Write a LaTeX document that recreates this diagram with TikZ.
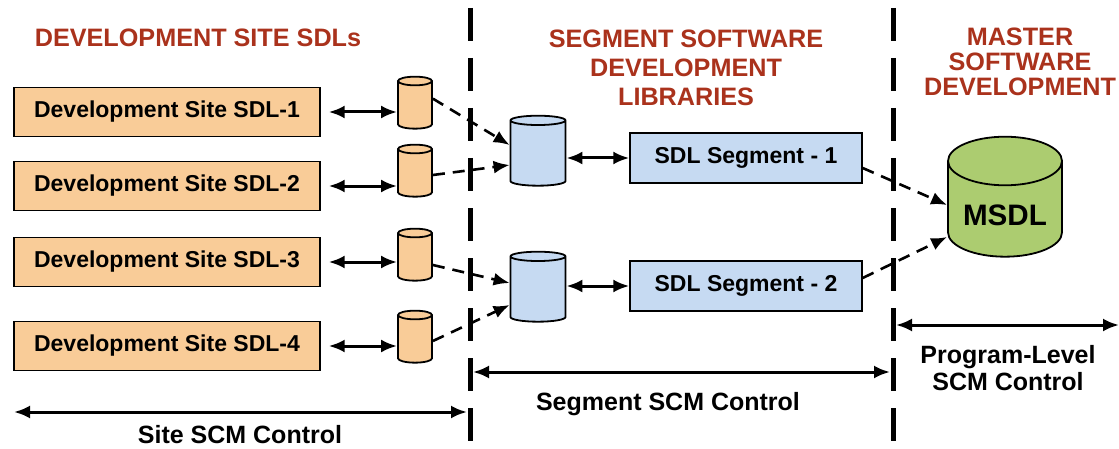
\documentclass[tikz,border=0pt]{standalone}
\usepackage{fontspec}
\setmainfont{Liberation Sans}
\usetikzlibrary{shapes.geometric,arrows.meta}

\definecolor{titlered}{RGB}{170,50,28}
\definecolor{siteorange}{RGB}{249,204,152}
\definecolor{segblue}{RGB}{198,218,242}
\definecolor{mastergreen}{RGB}{172,204,112}

\begin{document}
\begin{tikzpicture}[x=0.5pt,y=-0.5pt,
    >={Latex[length=8pt,width=6.5pt]},
    title/.style={text=titlered,font=\bfseries\fontsize{12.6}{14.5}\selectfont,align=center},
    site/.style={rectangle,draw,fill=siteorange,minimum width=153pt,minimum height=24.5pt,line width=0.7pt,font=\bfseries\fontsize{11.5}{13}\selectfont},
    seg/.style={rectangle,draw,fill=segblue,minimum width=116pt,minimum height=25pt,line width=0.7pt,font=\bfseries\fontsize{11.5}{13}\selectfont},
    db/.style={cylinder,shape border rotate=90,draw,line width=0.9pt,aspect=0.65,minimum width=17pt,minimum height=26pt,fill=siteorange},
    bdb/.style={cylinder,shape border rotate=90,draw,line width=0.9pt,aspect=0.7,minimum width=27.5pt,minimum height=35pt,fill=segblue},
    mdb/.style={cylinder,shape border rotate=90,draw,line width=0.9pt,aspect=0.5,minimum width=57pt,minimum height=60pt,fill=mastergreen,font=\bfseries\fontsize{14.8}{16}\selectfont},
    link/.style={<->,line width=1.5pt},
    feed/.style={->,line width=1.3pt,dash pattern=on 6pt off 4pt},
    fence/.style={line width=2.5pt,dash pattern=on 16.5pt off 8.5pt},
    span/.style={<->,line width=1.5pt},
    caption/.style={font=\bfseries\fontsize{12.5}{13.5}\selectfont,align=center},
]
\useasboundingbox (0,0) rectangle (1119,449);

% column titles
\node[title] (ttsite) at (198,38) {DEVELOPMENT SITE SDLs};
\node[title] (ttseg) at (686,68) {SEGMENT SOFTWARE\\DEVELOPMENT\\LIBRARIES};
\node[title,font=\bfseries\fontsize{12.6}{12.5}\selectfont] (ttmaster) at (1020,62) {MASTER\\SOFTWARE\\DEVELOPMENT};

% section borders
\draw[fence] (470,8) -- (470,445);
\draw[fence] (893,8) -- (893,445);

% development sites
\foreach \i/\y/\c in {1/112/107,2/186/175,3/262/259,4/346/341}{
  \node[site] (site\i) at (167,\y) {Development Site SDL-\i};
  \node[db] (sdb\i) at (415,\c) {};
  \draw[link] ([xshift=4pt]site\i.east) -- (site\i.east -| sdb\i.west);
}

% segment libraries
\node[bdb] (bdb1) at (538,155) {};
\node[bdb] (bdb2) at (538,291) {};
\node[seg] (seg1) at (746,158) {SDL Segment - 1};
\node[seg] (seg2) at (746,286) {SDL Segment - 2};
\draw[link] (seg1.west -| bdb1.east) -- (seg1.west);
\draw[link] (seg2.west -| bdb2.east) -- (seg2.west);

\draw[feed] (sdb1.25) -- ([yshift=5pt]bdb1.west);
\draw[feed] (sdb2.east) -- ([yshift=-5pt]bdb1.west);
\draw[feed] ([yshift=-3pt]sdb3.east) -- ([yshift=4pt]bdb2.west);
\draw[feed] (sdb4.east) -- ([yshift=-7pt]bdb2.west);

% master library
\node[mdb] (msdl) at (1005,215) {MSDL};
\draw[feed] ([yshift=-5pt]seg1.east) -- ([yshift=5pt]msdl.west);
\draw[feed] ([yshift=4pt]seg2.east) -- ([yshift=-11pt]msdl.west);

% control spans
\coordinate (siteL) at (14,412);
\coordinate (siteR) at (467,412);
\coordinate (segL) at (473,372);
\coordinate (segR) at (890,372);
\coordinate (progL) at (896,325);
\coordinate (progR) at (1119,325);
\draw[span] (siteL) -- (siteR);
\draw[span] (segL) -- (segR);
\draw[span] (progL) -- (progR);
\node[caption] (sitecap) at (240,435) {Site SCM Control};
\node[caption] (segcap) at (668,404) {Segment SCM Control};
\node[caption] (progcap) at (1008,368) {Program-Level\\SCM Control};

\end{tikzpicture}
\end{document}
